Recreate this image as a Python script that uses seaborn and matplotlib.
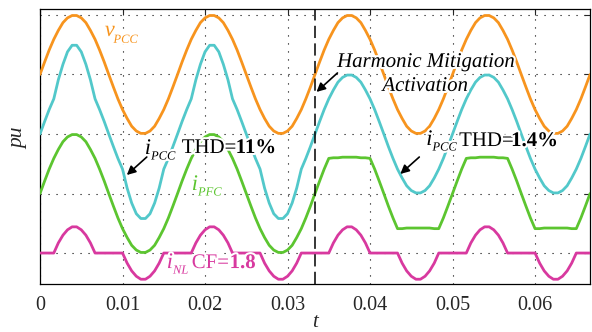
import numpy as np
import pandas as pd
import matplotlib
matplotlib.use("Agg")
import matplotlib.pyplot as plt
import matplotlib.patheffects as pe
import seaborn as sb

# scope sample instants (ms), 4 cycles of 60 Hz
t_ms = [
    0.00, 0.56, 1.11, 1.67, 2.22, 2.78, 3.33, 3.89, 4.44,
    5.00, 5.56, 6.11, 6.67, 7.22, 7.78, 8.33, 8.89, 9.44,
    10.00, 10.56, 11.11, 11.67, 12.22, 12.78, 13.33, 13.89, 14.44,
    15.00, 15.56, 16.11, 16.67, 17.22, 17.78, 18.33, 18.89, 19.44,
    20.00, 20.56, 21.11, 21.67, 22.22, 22.78, 23.33, 23.89, 24.44,
    25.00, 25.56, 26.11, 26.67, 27.22, 27.78, 28.33, 28.89, 29.44,
    30.00, 30.56, 31.11, 31.67, 32.22, 32.78, 33.33, 33.89, 34.44,
    35.00, 35.56, 36.11, 36.67, 37.22, 37.78, 38.33, 38.89, 39.44,
    40.00, 40.56, 41.11, 41.67, 42.22, 42.78, 43.33, 43.89, 44.44,
    45.00, 45.56, 46.11, 46.67, 47.22, 47.78, 48.33, 48.89, 49.44,
    50.00, 50.56, 51.11, 51.67, 52.22, 52.78, 53.33, 53.89, 54.44,
    55.00, 55.56, 56.11, 56.67, 57.22, 57.78, 58.33, 58.89, 59.44,
    60.00, 60.56, 61.11, 61.67, 62.22, 62.78, 63.33, 63.89, 64.44,
    65.00, 65.56, 66.11, 66.67,
]

# traces (pu, offset for display)
v_pcc = [
    3.00, 3.21, 3.41, 3.59, 3.74, 3.87, 3.95, 3.99, 3.99, 3.95, 3.87, 3.74, 3.59, 3.41, 3.21,
    3.00, 2.79, 2.59, 2.41, 2.26, 2.13, 2.05, 2.01, 2.01, 2.05, 2.13, 2.26, 2.41, 2.59, 2.79,
    3.00, 3.21, 3.41, 3.59, 3.74, 3.87, 3.95, 3.99, 3.99, 3.95, 3.87, 3.74, 3.59, 3.41, 3.21,
    3.00, 2.79, 2.59, 2.41, 2.26, 2.13, 2.05, 2.01, 2.01, 2.05, 2.13, 2.26, 2.41, 2.59, 2.79,
    3.00, 3.21, 3.41, 3.59, 3.74, 3.87, 3.95, 3.99, 3.99, 3.95, 3.87, 3.74, 3.59, 3.41, 3.21,
    3.00, 2.79, 2.59, 2.41, 2.26, 2.13, 2.05, 2.01, 2.01, 2.05, 2.13, 2.26, 2.41, 2.59, 2.79,
    3.00, 3.21, 3.41, 3.59, 3.74, 3.87, 3.95, 3.99, 3.99, 3.95, 3.87, 3.74, 3.59, 3.41, 3.21,
    3.00, 2.79, 2.59, 2.41, 2.26, 2.13, 2.05, 2.01, 2.01, 2.05, 2.13, 2.26, 2.41, 2.59, 2.79,
    3.00,
]
i_pcc = [
    2.00, 2.21, 2.41, 2.59, 2.91, 3.17, 3.38, 3.49, 3.49, 3.38, 3.17, 2.91, 2.59, 2.41, 2.21,
    2.00, 1.79, 1.59, 1.41, 1.09, 0.84, 0.66, 0.58, 0.58, 0.66, 0.84, 1.09, 1.41, 1.59, 1.79,
    2.00, 2.21, 2.41, 2.59, 2.91, 3.17, 3.38, 3.49, 3.49, 3.38, 3.17, 2.91, 2.59, 2.41, 2.21,
    2.00, 1.79, 1.59, 1.41, 1.09, 0.84, 0.66, 0.58, 0.58, 0.66, 0.84, 1.09, 1.41, 1.59, 1.79,
    2.00, 2.21, 2.41, 2.59, 2.74, 2.87, 2.95, 2.99, 2.99, 2.95, 2.87, 2.74, 2.59, 2.41, 2.21,
    2.00, 1.79, 1.59, 1.41, 1.26, 1.13, 1.05, 1.01, 1.01, 1.05, 1.13, 1.26, 1.41, 1.59, 1.79,
    2.00, 2.21, 2.41, 2.59, 2.74, 2.87, 2.95, 2.99, 2.99, 2.95, 2.87, 2.74, 2.59, 2.41, 2.21,
    2.00, 1.79, 1.59, 1.41, 1.26, 1.13, 1.05, 1.01, 1.01, 1.05, 1.13, 1.26, 1.41, 1.59, 1.79,
    2.00,
]
i_pfc = [
    1.00, 1.21, 1.41, 1.59, 1.74, 1.87, 1.95, 1.99, 1.99, 1.95, 1.87, 1.74, 1.59, 1.41, 1.21,
    1.00, 0.79, 0.59, 0.41, 0.26, 0.13, 0.05, 0.01, 0.01, 0.05, 0.13, 0.26, 0.41, 0.59, 0.79,
    1.00, 1.21, 1.41, 1.59, 1.74, 1.87, 1.95, 1.99, 1.99, 1.95, 1.87, 1.74, 1.59, 1.41, 1.21,
    1.00, 0.79, 0.59, 0.41, 0.26, 0.13, 0.05, 0.01, 0.01, 0.05, 0.13, 0.26, 0.41, 0.59, 0.79,
    1.00, 1.21, 1.41, 1.59, 1.60, 1.60, 1.61, 1.61, 1.61, 1.61, 1.60, 1.60, 1.59, 1.41, 1.21,
    1.00, 0.79, 0.59, 0.41, 0.41, 0.42, 0.42, 0.42, 0.42, 0.42, 0.42, 0.41, 0.41, 0.59, 0.79,
    1.00, 1.21, 1.41, 1.59, 1.60, 1.60, 1.61, 1.61, 1.61, 1.61, 1.60, 1.60, 1.59, 1.41, 1.21,
    1.00, 0.79, 0.59, 0.41, 0.41, 0.42, 0.42, 0.42, 0.42, 0.42, 0.42, 0.41, 0.41, 0.59, 0.79,
    1.00,
]
i_nl = [
    0.00, 0.00, 0.00, 0.00, 0.17, 0.30, 0.39, 0.44, 0.44, 0.39, 0.30, 0.17, 0.00, 0.00, 0.00,
    0.00, 0.00, 0.00, 0.00, -0.17, -0.30, -0.39, -0.44, -0.44, -0.39, -0.30, -0.17, 0.00, 0.00, 0.00,
    0.00, 0.00, 0.00, 0.00, 0.17, 0.30, 0.39, 0.44, 0.44, 0.39, 0.30, 0.17, 0.00, 0.00, 0.00,
    0.00, 0.00, 0.00, 0.00, -0.17, -0.30, -0.39, -0.44, -0.44, -0.39, -0.30, -0.17, 0.00, 0.00, 0.00,
    0.00, 0.00, 0.00, 0.00, 0.17, 0.30, 0.39, 0.44, 0.44, 0.39, 0.30, 0.17, 0.00, 0.00, 0.00,
    0.00, 0.00, 0.00, 0.00, -0.17, -0.30, -0.39, -0.44, -0.44, -0.39, -0.30, -0.17, 0.00, 0.00, 0.00,
    0.00, 0.00, 0.00, 0.00, 0.17, 0.30, 0.39, 0.44, 0.44, 0.39, 0.30, 0.17, 0.00, 0.00, 0.00,
    0.00, 0.00, 0.00, 0.00, -0.17, -0.30, -0.39, -0.44, -0.44, -0.39, -0.30, -0.17, 0.00, 0.00, 0.00,
    0.00,
]

t_activation = 0.0333
x_ticks = [0, 0.01, 0.02, 0.03, 0.04, 0.05, 0.06]
x_tick_labels = ["0", "0.01", "0.02", "0.03", "0.04", "0.05", "0.06"]

c_v = "#F7941E"
c_ipcc = "#52C8CA"
c_pfc = "#5CC530"
c_nl = "#D8399F"

data = pd.DataFrame({"t": np.array(t_ms) / 1000.0, "v_pcc": v_pcc,
                     "i_pcc": i_pcc, "i_pfc": i_pfc, "i_nl": i_nl})

sb.set_style("white")
plt.rcParams["font.family"] = ["Liberation Serif", "DejaVu Serif"]

fig = plt.figure(figsize=(5.92, 3.32), dpi=100)
ax = fig.add_axes([0.0676, 0.1446, 0.9291, 0.8284])

lw = 2.0
sb.lineplot(data=data, x="t", y="v_pcc", color=c_v, lw=lw, ax=ax, zorder=3)
sb.lineplot(data=data, x="t", y="i_pcc", color=c_ipcc, lw=lw, ax=ax, zorder=3)
sb.lineplot(data=data, x="t", y="i_pfc", color=c_pfc, lw=lw, ax=ax, zorder=3)
sb.lineplot(data=data, x="t", y="i_nl", color=c_nl, lw=lw, ax=ax, zorder=3)

ax.axvline(t_activation, color="k", lw=1.1, ls=(0, (8, 3.5)), zorder=4)

ax.set_xlim(0, 1 / 15)
ax.set_ylim(-0.52, 4.1)
ax.set_xticks(x_ticks)
ax.set_xticklabels(x_tick_labels, fontsize=14.5)
ax.set_yticks([0, 1, 2, 3, 4])
ax.set_yticklabels([])
ax.grid(True, color="k", lw=0.8, ls=(0, (1, 6.2)))
ax.tick_params(direction="in", length=4, width=0.8, top=True, right=True, pad=9)
for s in ax.spines.values():
    s.set_color("k")
    s.set_linewidth(0.9)

ax.set_xlabel("t", fontsize=15, style="italic")
ax.set_ylabel("pu", fontsize=15.5, style="italic")
ax.xaxis.set_label_coords(0.5, -0.105)
ax.yaxis.set_label_coords(-0.022, 0.53)

halo = [pe.withStroke(linewidth=3, foreground="white")]
fs = 15


def label(x, y, s, color="k", **kw):
    ax.text(x, y, s, color=color, fontsize=kw.pop("fontsize", fs), va="baseline",
            ha=kw.pop("ha", "left"), path_effects=halo, zorder=6, **kw)


def sub_label(x, y, main, sub, color, dx, dy=-4):
    # italic symbol with a small italic subscript
    label(x, y, main, color, style="italic", fontsize=16)
    ax.annotate(sub, xy=(x, y), xytext=(dx, dy), textcoords="offset points",
                color=color, fontsize=9, style="italic", va="baseline",
                path_effects=halo, zorder=6)


sub_label(0.00786, 3.647, "v", "PCC", c_v, 6.2, -5)
sub_label(0.0127, 1.664, "i", "PCC", "k", 4.5)
label(0.01718, 1.681, "THD=")
label(0.02371, 1.681, "11%", fontweight="bold")
sub_label(0.04681, 1.815, "i", "PCC", "k", 4.5)
label(0.0508, 1.798, "THD=")
label(0.0571, 1.798, "1.4%", fontweight="bold")
sub_label(0.01839, 1.059, "i", "PFC", c_pfc, 4.5)
sub_label(0.01536, -0.252, "i", "NL", c_nl, 4.5)
label(0.01839, -0.252, "CF=", c_nl)
label(0.02298, -0.252, "1.8", c_nl, fontweight="bold")
label(0.04681, 3.126, "Harmonic Mitigation", style="italic", ha="center")
label(0.04669, 2.723, "Activation", style="italic", ha="center")

arrow = dict(arrowstyle="-|>", color="k", lw=1.2, mutation_scale=13, shrinkA=0, shrinkB=0)
ax.annotate("", xy=(0.03351, 2.706), xytext=(0.03605, 3.025), arrowprops=arrow, zorder=7)
ax.annotate("", xy=(0.01052, 1.311), xytext=(0.01294, 1.613), arrowprops=arrow, zorder=7)
ax.annotate("", xy=(0.04367, 1.328), xytext=(0.04597, 1.613), arrowprops=arrow, zorder=7)

fig.savefig("out.png", dpi=100)
